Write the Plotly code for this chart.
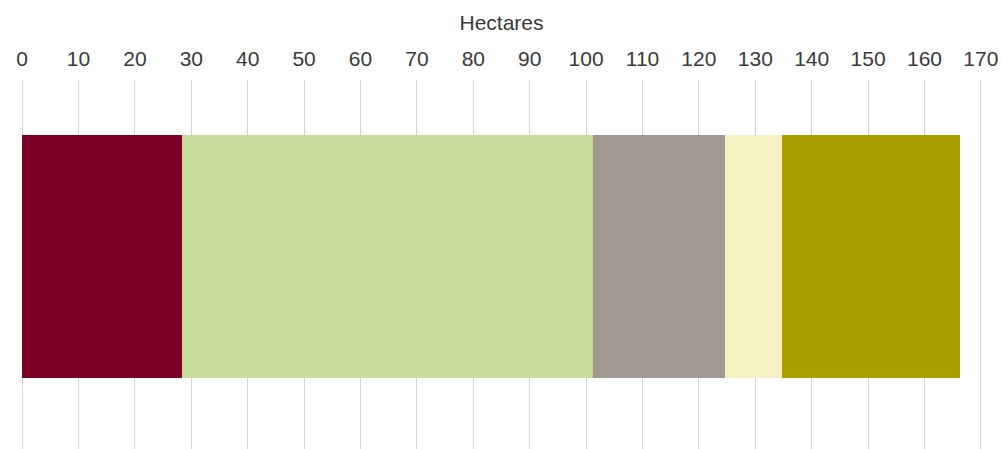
import plotly.graph_objects as go

# Land area by use, stacked along one bar (hectares)
segments = ["Uso 1", "Uso 2", "Uso 3", "Uso 4", "Uso 5"]
hectares = [28.3, 73.0, 23.3, 10.1, 31.6]
colors = ["#7a0026", "#c5dc9c", "#a29993", "#f6f1c2", "#ab9f00"]
tick_values = list(range(0, 171, 10))

fig = go.Figure()
for name, value, color in zip(segments, hectares, colors):
    fig.add_trace(go.Bar(
        x=[value], y=[0], name=name, orientation="h",
        width=1, marker=dict(color=color, line=dict(width=0)),
        hoverinfo="x+name",
    ))

fig.update_layout(
    barmode="stack",
    width=1003, height=449,
    margin=dict(l=21, r=21, t=80, b=0),
    paper_bgcolor="white", plot_bgcolor="white",
    showlegend=False,
    font=dict(family="Liberation Sans, Arial, sans-serif", size=21, color="#3a3a3a"),
    xaxis=dict(
        side="top", range=[-0.2, 170.2], tickvals=tick_values,
        showgrid=True, gridcolor="#d3d3d3", gridwidth=1,
        zeroline=False, showline=False, ticks="",
        ticklabelstandoff=9,
        title=dict(text="Hectares", standoff=10, font=dict(size=21)),
    ),
    yaxis=dict(range=[-0.792, 0.726], visible=False, fixedrange=True),
)

fig.write_html("out.html")
